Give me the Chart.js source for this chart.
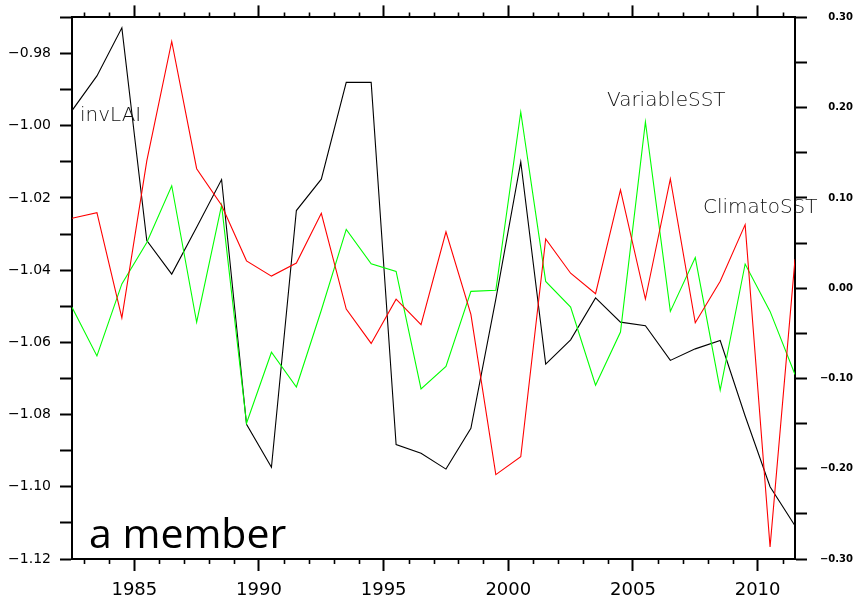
<!DOCTYPE html>
<html>
<head>
<meta charset="utf-8">
<script src="https://cdn.jsdelivr.net/npm/chart.js@4.4.1/dist/chart.umd.min.js"></script>
<style>
  html, body { margin: 0; padding: 0; background: #fff; }
  #wrap { width: 859px; height: 597px; position: relative; }
</style>
</head>
<body>
<div id="wrap"><canvas id="c" width="859" height="597"></canvas></div>
<script>
// ---- data ----
const years = [1982,1983,1984,1985,1986,1987,1988,1989,1990,1991,1992,1993,1994,1995,1996,1997,1998,1999,2000,2001,2002,2003,2004,2005,2006,2007,2008,2009,2010,2011];
const invLAI = [-0.9958,-0.9862,-0.9729,-1.0318,-1.0411,-1.0281,-1.0149,-1.0827,-1.0946,-1.0235,
                -1.0148,-0.9880,-0.9880,-1.0883,-1.0907,-1.0951,-1.0838,-1.0480,-1.0100,-1.0660,
                -1.0593,-1.0477,-1.0544,-1.0554,-1.0650,-1.0618,-1.0595,-1.0804,-1.1000,-1.1108];
const climatoSST = [0.0774,0.0837,-0.0329,0.1410,0.2733,0.1324,0.0919,0.0303,0.0134,0.0279,
                    0.0829,-0.0231,-0.0612,-0.0121,-0.0404,0.0625,-0.0290,-0.2065,-0.1868,0.0546,
                    0.0166,-0.0061,0.1089,-0.0120,0.1210,-0.0383,0.0077,0.0704,-0.2867,0.0320];
const variableSST = [-0.0212,-0.0750,0.0048,0.0507,0.1135,-0.0377,0.0919,-0.1496,-0.0710,-0.1095,
                     -0.0244,0.0652,0.0271,0.0185,-0.1115,-0.0867,-0.0035,-0.0023,0.1952,0.0075,
                     -0.0210,-0.1074,-0.0485,0.1842,-0.0257,0.0339,-0.1129,0.0268,-0.0257,-0.0956];
const xMajorTicks = [1985,1990,1995,2000,2005,2010];
const leftTicks = [-1.12,-1.11,-1.10,-1.09,-1.08,-1.07,-1.06,-1.05,-1.04,-1.03,-1.02,-1.01,-1.00,-0.99,-0.98,-0.97];
const rightTicks = [-0.30,-0.25,-0.20,-0.15,-0.10,-0.05,0.00,0.05,0.10,0.15,0.20,0.25,0.30];
const labels = [
  {text: 'invLAI', x: 80, y: 121},
  {text: 'VariableSST', x: 607, y: 106},
  {text: 'ClimatoSST', x: 703, y: 213}
];
const panelTitle = 'a member';

// ---- helpers ----
const pts = arr => arr.map((v, i) => ({x: years[i] + 0.5, y: v}));
const fmt = v => (v < 0 ? '\u2212' : '') + Math.abs(v).toFixed(2);
const near = (a, b) => Math.abs(a - b) < 1e-6;

const minorTicks = {
  id: 'minorTicks',
  afterDatasetsDraw(chart) {
    const ctx = chart.ctx;
    const xs = chart.scales.x;
    const top = chart.chartArea.top, bottom = chart.chartArea.bottom;
    ctx.save();
    ctx.strokeStyle = '#000';
    ctx.lineWidth = 1.6;
    for (let y = Math.ceil(xs.min); y <= Math.floor(xs.max); y++) {
      if (y % 5 === 0) continue;
      const px = Math.round(xs.getPixelForValue(y)) + 0.5;
      ctx.beginPath();
      ctx.moveTo(px, bottom); ctx.lineTo(px, bottom + 5);
      ctx.moveTo(px, top); ctx.lineTo(px, top - 5);
      ctx.stroke();
    }
    ctx.restore();
  }
};

const annotations = {
  id: 'annotations',
  afterDraw(chart) {
    const ctx = chart.ctx;
    ctx.save();
    ctx.fillStyle = '#111';
    ctx.font = '200 20px "DejaVu Sans"';
    ctx.textBaseline = 'alphabetic';
    ctx.textAlign = 'left';
    labels.forEach(l => ctx.fillText(l.text, l.x, l.y));
    ctx.fillStyle = '#000';
    ctx.font = '41px "Open Sans"';
    ctx.fillText(panelTitle, 89, 548);
    ctx.restore();
  }
};

const tickGrid = {
  drawOnChartArea: false,
  drawTicks: true,
  tickLength: 12,
  tickColor: '#000',
  tickWidth: 2,
  color: '#000'
};

new Chart(document.getElementById('c'), {
  type: 'line',
  data: {
    datasets: [
      {label: 'ClimatoSST', data: pts(climatoSST), yAxisID: 'yR', borderColor: '#ff0000', borderWidth: 1.1, pointRadius: 0, tension: 0, fill: false},
      {label: 'VariableSST', data: pts(variableSST), yAxisID: 'yR', borderColor: '#00ff00', borderWidth: 1.1, pointRadius: 0, tension: 0, fill: false},
      {label: 'invLAI', data: pts(invLAI), yAxisID: 'yL', borderColor: '#000000', borderWidth: 1.1, pointRadius: 0, tension: 0, fill: false}
    ]
  },
  options: {
    responsive: false,
    animation: false,
    devicePixelRatio: 1,
    layout: {padding: {left: 0, top: 0, bottom: 0, right: 6}},
    plugins: {legend: {display: false}, tooltip: {enabled: false}},
    scales: {
      x: {
        type: 'linear', position: 'bottom',
        min: years[0] + 0.5, max: years[years.length - 1] + 0.5,
        afterBuildTicks: s => { s.ticks = xMajorTicks.map(v => ({value: v})); },
        afterFit: s => { s.height = 38; },
        grid: tickGrid,
        border: {display: true, color: '#000', width: 2},
        ticks: {
          autoSkip: false, maxRotation: 0, padding: 9,
          color: '#000', font: {family: 'DejaVu Sans', size: 18},
          callback: v => String(v)
        }
      },
      x2: {
        type: 'linear', position: 'top',
        min: years[0] + 0.5, max: years[years.length - 1] + 0.5,
        afterBuildTicks: s => { s.ticks = xMajorTicks.map(v => ({value: v})); },
        afterFit: s => { s.height = 17; },
        grid: tickGrid,
        border: {display: true, color: '#000', width: 2},
        ticks: {display: false}
      },
      yL: {
        type: 'linear', position: 'left',
        min: -1.12, max: -0.97,
        afterBuildTicks: s => { s.ticks = leftTicks.map(v => ({value: v})); },
        afterFit: s => { s.width = 72; },
        grid: tickGrid,
        border: {display: true, color: '#000', width: 2},
        ticks: {
          autoSkip: false, padding: 9, color: '#000',
          font: {family: 'DejaVu Sans', size: 14},
          callback: v => {
            const k = Math.round((v + 1.12) * 100);
            return (k % 2 === 0 && !near(v, -0.97)) ? fmt(v) : '';
          }
        }
      },
      yR: {
        type: 'linear', position: 'right',
        min: -0.30, max: 0.30,
        afterBuildTicks: s => { s.ticks = rightTicks.map(v => ({value: v})); },
        afterFit: s => { s.width = 58; },
        grid: tickGrid,
        border: {display: true, color: '#000', width: 2},
        ticks: {
          autoSkip: false, padding: 4, color: '#000', crossAlign: 'far',
          font: {family: 'DejaVu Sans', size: 10, weight: 'bold'},
          callback: v => {
            const k = Math.round((v + 0.30) * 100);
            return (k % 10 === 0) ? fmt(v) : '';
          }
        }
      }
    }
  },
  plugins: [minorTicks, annotations]
});
</script>
</body>
</html>
